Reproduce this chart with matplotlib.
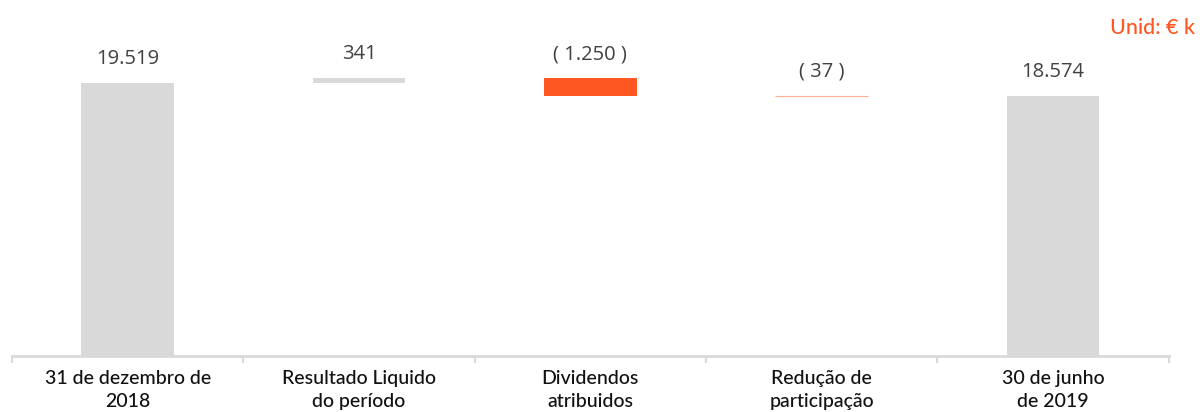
import matplotlib
matplotlib.use("Agg")
import matplotlib.pyplot as plt
import numpy as np

categories = ["31 de dezembro de\n2018", "Resultado Liquido\ndo período",
              "Dividendos\natribuidos", "Redução de\nparticipação",
              "30 de junho\nde 2019"]
values = [19519, 341, -1250, -37, 18574]
value_labels = ["19.519", "341", "( 1.250 )", "( 37 )", "18.574"]
kinds = ["total", "delta", "delta", "delta", "total"]

GRAY = "#D9D9D9"
ORANGE = "#FF5722"
LIGHT_ORANGE = "#FFB08F"

fig = plt.figure(figsize=(12, 4.12), dpi=100)
ax = fig.add_axes([0.01, 0.136, 0.964, 0.864])

running = 0
for i, (v, k) in enumerate(zip(values, kinds)):
    if k == "total":
        bottom, height = 0, v
        running = v
        color = GRAY
    else:
        if v >= 0:
            bottom, height = running, v
            color = GRAY
        else:
            bottom, height = running + v, -v
            color = ORANGE
        running += v
    if height < 100:
        ax.bar(i, height, bottom=bottom, width=0.4, color=LIGHT_ORANGE,
               edgecolor=LIGHT_ORANGE, linewidth=0.8)
    else:
        ax.bar(i, height, bottom=bottom, width=0.4, color=color, linewidth=0)
    top = bottom + height
    ax.annotate(value_labels[i], (i, top), xytext=(0, 10), textcoords="offset points",
                ha="center", va="bottom", fontsize=14.5, color="#404040",
                family="Open Sans")

ax.set_xlim(-0.5, len(categories) - 0.5)
ax.set_ylim(0, 25450)
ax.set_yticks([])
for s in ["top", "right", "left"]:
    ax.spines[s].set_visible(False)
ax.spines["bottom"].set_color(GRAY)
ax.spines["bottom"].set_linewidth(2)

ax.set_xticks(np.arange(-0.5, len(categories)), minor=False)
ax.set_xticklabels([""] * (len(categories) + 1))
ax.tick_params(axis="x", which="major", length=5, width=1.5, color=GRAY, direction="out")
ax.set_xticks(np.arange(len(categories)), minor=True)
ax.set_xticklabels(categories, minor=True, fontsize=14, color="#111111",
                   family="Lato", fontweight="medium", linespacing=1.45)
ax.tick_params(axis="x", which="minor", length=0, pad=10)

fig.text(0.996, 0.932, "Unid: € k", ha="right", va="center", color=ORANGE,
         fontsize=15.5, family="Lato", fontweight="medium")

fig.savefig("out.png", dpi=100)
